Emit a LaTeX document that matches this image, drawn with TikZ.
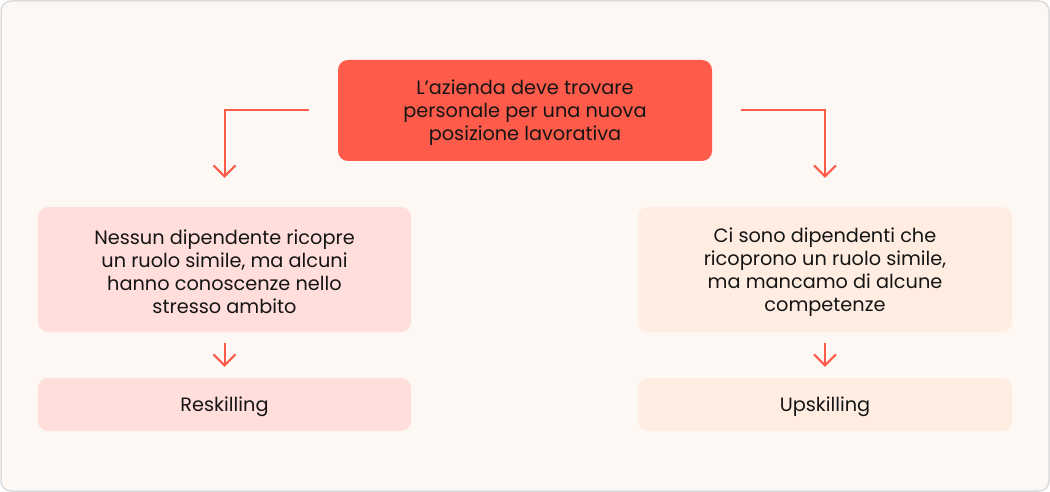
\documentclass[tikz,border=0pt]{standalone}
\usepackage{fontspec}
\setmainfont{Poppins}
\usetikzlibrary{arrows.meta}
\definecolor{bgc}{HTML}{FDF8F4}
\definecolor{framec}{HTML}{DCDCDC}
\definecolor{redc}{HTML}{FF5B4A}
\definecolor{pinkc}{HTML}{FFDEDB}
\definecolor{peachc}{HTML}{FFEDE1}
\definecolor{textc}{HTML}{151515}
\tikzset{
  box/.style={rounded corners=10pt, inner sep=0pt},
  txt/.style={inner sep=0pt, align=center, text=textc,
    font=\fontsize{19.3}{23}\selectfont},
  conn/.style={draw=redc, line width=2pt, -{Straight Barb[length=11pt,width=22pt,line width=2pt]}},
}
\begin{document}
\begin{tikzpicture}[x=1pt,y=-1pt]
\useasboundingbox (0,0) rectangle (1050,492);
\draw[fill=bgc, draw=framec, line width=1.5pt, rounded corners=10pt] (1,1) rectangle (1049,491);
\node[box, fill=redc, minimum width=374pt, minimum height=101pt] (top) at (525,110.5) {};
\node[txt] (toptext) at ([yshift=-2.5pt]top.center)
  {L’azienda deve trovare\\personale per una nuova\\posizione lavorativa};
\node[box, fill=pinkc, minimum width=373pt, minimum height=125pt] (lmid) at (224.5,269.5) {};
\node[txt] (lmidtext) at ([yshift=-2.5pt]lmid.center)
  {Nessun dipendente ricopre\\un ruolo simile, ma alcuni\\hanno conoscenze nello\\stresso ambito};
\node[box, fill=peachc, minimum width=374pt, minimum height=125pt] (rmid) at (825,269.5) {};
\node[txt] (rmidtext) at ([yshift=-2.5pt]rmid.center)
  {Ci sono dipendenti che\\ricoprono un ruolo simile,\\ma mancamo di alcune\\competenze};
\node[box, fill=pinkc, minimum width=373pt, minimum height=53pt] (lbot) at (224.5,404.5) {};
\node[txt] (lbottext) at ([yshift=-2.5pt]lbot.center) {Reskilling};
\node[box, fill=peachc, minimum width=374pt, minimum height=53pt] (rbot) at (825,404.5) {};
\node[txt] (rbottext) at ([yshift=-2.5pt]rbot.center) {Upskilling};
\draw[conn, shorten <=29pt, shorten >=29pt] (top.west) -| (lmid.north);
\draw[conn, shorten <=29pt, shorten >=29pt] (top.east) -| (rmid.north);
\draw[conn, shorten <=11pt, shorten >=11pt] (lmid.south) -- (lbot.north);
\draw[conn, shorten <=11pt, shorten >=11pt] (rmid.south) -- (rbot.north);
\end{tikzpicture}
\end{document}
